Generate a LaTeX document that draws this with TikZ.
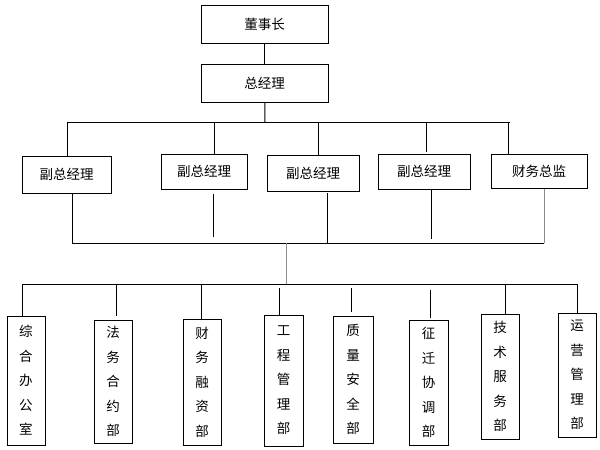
\documentclass[tikz,border=0pt]{standalone}
\usepackage{fontspec}
\setmainfont{Noto Sans CJK SC}
\begin{document}
\begin{tikzpicture}[x=1pt,y=-1pt,
  box/.style={draw,line width=1pt,inner sep=0pt,align=center,
    font=\fontsize{13.5}{24.5}\selectfont},
  wire/.style={line width=1pt},
  greywire/.style={line width=1pt,draw=black!45}]
\useasboundingbox[fill=white] (0,0) rectangle (600,450);
% top
\node[box,minimum width=127pt,minimum height=38pt] (chair) at (264.5,24) {董事长};
\node[box,minimum width=127pt,minimum height=38pt] (gm) at (264.5,83) {总经理};
% second level
\node[box,minimum width=89pt,minimum height=37pt] (v1) at (66.5,174.5) {副总经理};
\node[box,minimum width=86pt,minimum height=35pt] (v2) at (204,171.5) {副总经理};
\node[box,minimum width=92pt,minimum height=36pt] (v3) at (313,173) {副总经理};
\node[box,minimum width=92pt,minimum height=35pt] (v4) at (424,171.5) {副总经理};
\node[box,minimum width=96pt,minimum height=34pt] (cfo) at (539,171) {财务总监};
% departments
\node[box,minimum width=38pt,minimum height=129pt] (d1) at (26,380.5) {综\\合\\办\\公\\室};
\node[box,minimum width=38pt,minimum height=123pt] (d2) at (113,381.5) {法\\务\\合\\约\\部};
\node[box,minimum width=38pt,minimum height=126pt] (d3) at (202,382) {财\\务\\融\\资\\部};
\node[box,minimum width=39pt,minimum height=131pt] (d4) at (283.5,380.5) {工\\程\\管\\理\\部};
\node[box,minimum width=40pt,minimum height=127pt] (d5) at (353,379.5) {质\\量\\安\\全\\部};
\node[box,minimum width=39pt,minimum height=125pt] (d6) at (428.5,382.5) {征\\迁\\协\\调\\部};
\node[box,minimum width=38pt,minimum height=125pt] (d7) at (500,376.5) {技\\术\\服\\务\\部};
\node[box,minimum width=38pt,minimum height=124pt] (d8) at (577,375) {运\\营\\管\\理\\部};
% bus coordinates
\coordinate (busA) at (265,122);
\coordinate (busAL) at (67,122);
\coordinate (busAR) at (510,122);
\coordinate (t2) at (214,122);
\coordinate (t3) at (318,122);
\coordinate (t4) at (426,122);
\coordinate (t4e) at (426,152);
\coordinate (t5) at (508,122);
\coordinate (busBL) at (72,243);
\coordinate (busBR) at (544,243);
\coordinate (u2s) at (213,194);
\coordinate (u2e) at (213,237);
\coordinate (u3s) at (327,193);
\coordinate (u3) at (327,243);
\coordinate (u4e) at (431,239);
\coordinate (busBmid) at (286,243);
\coordinate (busCmid) at (286,284);
\coordinate (busCL) at (22,284);
\coordinate (busCR) at (577,284);
\coordinate (w2) at (116,284);
\coordinate (w2e) at (116,316);
\coordinate (w3) at (201,284);
\coordinate (w4s) at (279,288);
\coordinate (w5s) at (351,288);
\coordinate (w5e) at (351,312);
\coordinate (w6s) at (430,290);
\coordinate (w6e) at (430,318);
\coordinate (w7) at (505,284);
% connectors
\draw[wire] (chair) -- (gm);
\draw[wire] (gm) -- (busA);
\draw[wire] (busAL) -- (busAR);
\draw[wire] (busAL) -- (busAL |- v1.north);
\draw[wire] (t2) -- (t2 |- v2.north);
\draw[wire] (t3) -- (t3 |- v3.north);
\draw[wire] (t4) -- (t4e);
\draw[wire] (t5) -- (t5 |- cfo.north);
\draw[wire] (busBL |- v1.south) -- (busBL);
\draw[wire] (u2s) -- (u2e);
\draw[wire] (u3s) -- (u3);
\draw[wire] (u4e |- v4.south) -- (u4e);
\draw[greywire] (busBR |- cfo.south) -- (busBR);
\draw[wire] (busBL) -- (busBR);
\draw[greywire] (busBmid) -- (busCmid);
\draw[wire] (busCL) -- (busCR);
\draw[wire] (busCL) -- (busCL |- d1.north);
\draw[wire] (w2) -- (w2e);
\draw[wire] (w3) -- (w3 |- d3.north);
\draw[wire] (w4s) -- (w4s |- d4.north);
\draw[wire] (w5s) -- (w5e);
\draw[wire] (w6s) -- (w6e);
\draw[wire] (w7) -- (w7 |- d7.north);
\draw[wire] (busCR) -- (busCR |- d8.north);
\end{tikzpicture}
\end{document}
